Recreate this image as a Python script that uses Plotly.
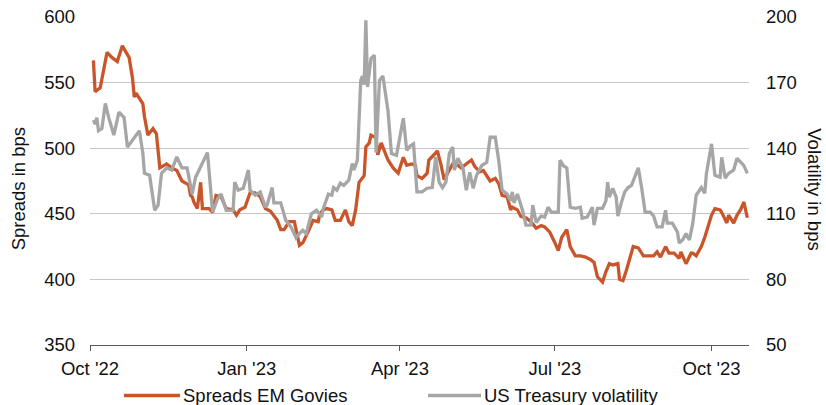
import plotly.graph_objects as go

# EM government bond spreads (bps, left axis)
spread_dates = [
    "2022-10-03", "2022-10-04", "2022-10-07", "2022-10-11", "2022-10-14", "2022-10-17",
    "2022-10-20", "2022-10-24", "2022-10-26", "2022-10-27", "2022-10-28", "2022-11-01",
    "2022-11-02", "2022-11-04", "2022-11-07", "2022-11-09", "2022-11-10", "2022-11-11",
    "2022-11-15", "2022-11-18", "2022-11-21", "2022-11-24", "2022-11-28", "2022-11-29",
    "2022-11-30", "2022-12-01", "2022-12-03", "2022-12-05", "2022-12-06", "2022-12-10",
    "2022-12-12", "2022-12-14", "2022-12-17", "2022-12-20", "2022-12-24", "2022-12-26",
    "2022-12-28", "2022-12-31", "2023-01-03", "2023-01-06", "2023-01-09", "2023-01-12",
    "2023-01-15", "2023-01-18", "2023-01-19", "2023-01-21", "2023-01-23", "2023-01-26",
    "2023-01-29", "2023-02-01", "2023-02-03", "2023-02-06", "2023-02-09", "2023-02-12",
    "2023-02-13", "2023-02-15", "2023-02-17", "2023-02-20", "2023-02-22", "2023-02-25",
    "2023-02-28", "2023-03-02", "2023-03-04", "2023-03-06", "2023-03-08", "2023-03-11",
    "2023-03-12", "2023-03-14", "2023-03-15", "2023-03-18", "2023-03-19", "2023-03-21",
    "2023-03-23", "2023-03-25", "2023-03-28", "2023-03-31", "2023-04-03", "2023-04-05",
    "2023-04-08", "2023-04-10", "2023-04-11", "2023-04-14", "2023-04-17", "2023-04-18",
    "2023-04-21", "2023-04-23", "2023-04-25", "2023-04-27", "2023-04-29", "2023-05-02",
    "2023-05-04", "2023-05-07", "2023-05-09", "2023-05-11", "2023-05-13", "2023-05-15",
    "2023-05-18", "2023-05-20", "2023-05-22", "2023-05-24", "2023-05-27", "2023-05-29",
    "2023-05-31", "2023-06-03", "2023-06-05", "2023-06-06", "2023-06-09", "2023-06-11",
    "2023-06-14", "2023-06-17", "2023-06-20", "2023-06-23", "2023-06-25", "2023-06-28",
    "2023-07-01", "2023-07-03", "2023-07-05", "2023-07-08", "2023-07-10", "2023-07-13",
    "2023-07-16", "2023-07-19", "2023-07-22", "2023-07-24", "2023-07-26", "2023-07-29",
    "2023-07-31", "2023-08-02", "2023-08-04", "2023-08-07", "2023-08-08", "2023-08-10",
    "2023-08-12", "2023-08-14", "2023-08-16", "2023-08-19", "2023-08-22", "2023-08-25",
    "2023-08-28", "2023-08-30", "2023-09-01", "2023-09-04", "2023-09-06", "2023-09-09",
    "2023-09-12", "2023-09-13", "2023-09-16", "2023-09-19", "2023-09-20", "2023-09-22",
    "2023-09-25", "2023-09-27", "2023-09-28", "2023-10-01", "2023-10-03", "2023-10-06",
    "2023-10-07", "2023-10-10", "2023-10-11", "2023-10-14", "2023-10-16", "2023-10-18",
    "2023-10-20", "2023-10-22",
]
spread_values = [
    567, 543, 546, 573, 569, 566,
    578, 569, 553, 539, 542, 534,
    524, 510, 515, 511, 498, 485,
    488, 485, 483, 475, 472, 464,
    463, 459, 454, 474, 454, 454,
    451, 464, 463, 454, 453, 449,
    453, 455, 466, 466, 463, 454,
    452, 447, 445, 438, 438, 444,
    444, 426, 428, 436, 445, 444,
    450, 453, 454, 453, 445, 445,
    453, 444, 441, 453, 474, 479,
    501, 504, 510, 508, 495, 504,
    498, 491, 485, 481, 493, 487,
    488, 487, 479, 477, 481, 491,
    495, 498, 488, 476, 481, 488,
    488, 485, 487, 489, 491, 486,
    482, 483, 479, 475, 477, 473,
    464, 463, 453, 455, 453, 448,
    447, 444, 439, 441, 440, 436,
    428, 422, 432, 438, 425, 418,
    418, 417, 415, 413, 402, 398,
    406, 412, 411, 412, 400, 399,
    407, 417, 425, 424, 418, 418,
    418, 421, 417, 425, 420, 420,
    416, 421, 412, 420, 420, 418,
    425, 432, 436, 449, 454, 453,
    451, 443, 449, 443, 449, 453,
    459, 447,
]

# US Treasury volatility (bps, right axis)
vol_dates = [
    "2022-10-03", "2022-10-04", "2022-10-05", "2022-10-06", "2022-10-08", "2022-10-10",
    "2022-10-12", "2022-10-15", "2022-10-18", "2022-10-21", "2022-10-23", "2022-10-27",
    "2022-10-30", "2022-11-01", "2022-11-02", "2022-11-05", "2022-11-08", "2022-11-10",
    "2022-11-12", "2022-11-15", "2022-11-18", "2022-11-21", "2022-11-24", "2022-11-27",
    "2022-11-30", "2022-12-02", "2022-12-06", "2022-12-09", "2022-12-12", "2022-12-15",
    "2022-12-17", "2022-12-20", "2022-12-24", "2022-12-25", "2022-12-27", "2022-12-30",
    "2023-01-02", "2023-01-03", "2023-01-06", "2023-01-09", "2023-01-12", "2023-01-13",
    "2023-01-16", "2023-01-17", "2023-01-21", "2023-01-24", "2023-01-27", "2023-01-30",
    "2023-02-01", "2023-02-03", "2023-02-05", "2023-02-08", "2023-02-11", "2023-02-14",
    "2023-02-15", "2023-02-18", "2023-02-20", "2023-02-21", "2023-02-23", "2023-02-25",
    "2023-02-27", "2023-03-02", "2023-03-04", "2023-03-05", "2023-03-07", "2023-03-09",
    "2023-03-10", "2023-03-11", "2023-03-12", "2023-03-13", "2023-03-15", "2023-03-17",
    "2023-03-18", "2023-03-20", "2023-03-22", "2023-03-25", "2023-03-27", "2023-03-30",
    "2023-04-03", "2023-04-05", "2023-04-07", "2023-04-09", "2023-04-11", "2023-04-14",
    "2023-04-17", "2023-04-20", "2023-04-22", "2023-04-24", "2023-04-26", "2023-04-28",
    "2023-04-30", "2023-05-02", "2023-05-03", "2023-05-05", "2023-05-08", "2023-05-10",
    "2023-05-12", "2023-05-14", "2023-05-16", "2023-05-19", "2023-05-22", "2023-05-24",
    "2023-05-27", "2023-05-29", "2023-05-31", "2023-06-03", "2023-06-05", "2023-06-06",
    "2023-06-07", "2023-06-09", "2023-06-12", "2023-06-14", "2023-06-17", "2023-06-18",
    "2023-06-20", "2023-06-23", "2023-06-25", "2023-06-27", "2023-06-29", "2023-07-03",
    "2023-07-04", "2023-07-06", "2023-07-08", "2023-07-10", "2023-07-13", "2023-07-16",
    "2023-07-17", "2023-07-20", "2023-07-23", "2023-07-24", "2023-07-26", "2023-07-29",
    "2023-07-31", "2023-08-01", "2023-08-02", "2023-08-04", "2023-08-06", "2023-08-07",
    "2023-08-09", "2023-08-11", "2023-08-13", "2023-08-15", "2023-08-17", "2023-08-19",
    "2023-08-21", "2023-08-23", "2023-08-26", "2023-08-28", "2023-08-30", "2023-09-02",
    "2023-09-04", "2023-09-05", "2023-09-08", "2023-09-11", "2023-09-12", "2023-09-14",
    "2023-09-16", "2023-09-18", "2023-09-20", "2023-09-22", "2023-09-25", "2023-09-27",
    "2023-09-28", "2023-10-01", "2023-10-03", "2023-10-06", "2023-10-07", "2023-10-09",
    "2023-10-11", "2023-10-14", "2023-10-16", "2023-10-18", "2023-10-20", "2023-10-22",
]
vol_values = [
    152.8, 151, 154, 148, 149, 160.5,
    154, 146, 156.5, 154, 140.5, 145,
    148, 138, 128.5, 127.6, 111.6, 114,
    128.5, 131, 130, 136, 131, 131,
    119, 126.7, 133, 138, 110.7, 117,
    119, 111.6, 111.6, 124.5, 120.8, 121.7,
    130, 120.8, 118.5, 120, 113, 114,
    122, 115, 115, 107, 104, 99,
    101, 102.5, 101, 110, 111.6, 108.5,
    112.5, 119, 118.5, 122, 120.8, 124,
    123, 125.4, 133, 130, 134.5, 171,
    173, 169, 198.5, 168, 181, 182.5,
    138, 171, 173, 157, 137.6, 136.8,
    153.7, 139, 141, 142, 120, 120,
    121.7, 122, 136, 124.5, 122, 124.5,
    137.6, 140.5, 130, 135.4, 131, 120.8,
    129, 121.7, 127.6, 132, 133.6, 145,
    145, 134.5, 120.8, 119, 116, 120,
    115, 119, 111.6, 104.8, 104.8, 114,
    106, 109, 108.5, 113, 110.7, 110.7,
    134.5, 132, 131, 113, 112.5, 113,
    108, 108.5, 113, 104.8, 112.5, 112.5,
    116, 124.5, 117.6, 121.7, 117.6, 109,
    115, 120, 122, 123, 127, 131,
    121.7, 110.7, 110.7, 109, 104, 104,
    111.6, 105.7, 105.7, 101.6, 96.6, 98,
    101, 98, 105.7, 118.5, 122, 119.4,
    128.5, 142, 127.6, 126.7, 135.8, 126.3,
    128.5, 130, 135.4, 133.6, 132, 128.5,
]

spread_name = "Spreads EM Govies"
vol_name = "US Treasury volatility"
spread_color = "#C9552B"
vol_color = "#A6A6A6"

font_family = "Liberation Sans, Arial, sans-serif"
text_color = "#111111"
font_size = 18.5

fig = go.Figure()
fig.add_trace(go.Scatter(
    x=spread_dates, y=spread_values, name=spread_name, mode="lines",
    line=dict(color=spread_color, width=3.3), yaxis="y",
))
fig.add_trace(go.Scatter(
    x=vol_dates, y=vol_values, name=vol_name, mode="lines",
    line=dict(color=vol_color, width=3.3), yaxis="y2",
))

fig.update_layout(
    width=826, height=405,
    margin=dict(l=90, r=77, t=17, b=60),
    paper_bgcolor="white", plot_bgcolor="white",
    font=dict(family=font_family, size=font_size, color=text_color),
    showlegend=False,
    xaxis=dict(
        type="date",
        range=["2022-10-01", "2023-10-23"],
        tick0="2022-10-01", dtick="M3", tickformat="%b '%y",
        showgrid=False, zeroline=False,
        showline=True, linecolor="#595959", linewidth=1.3,
        ticks="outside", ticklen=5, tickcolor="#595959", tickwidth=1,
        ticklabelstandoff=2, automargin=False,
    ),
    yaxis=dict(
        range=[350, 600], dtick=50, tick0=350,
        showgrid=True, gridcolor="#C6C6C6", gridwidth=1,
        zeroline=False, showline=False, ticks="",
        ticklabelstandoff=14, automargin=False,
    ),
    yaxis2=dict(
        range=[50, 200], dtick=30, tick0=50,
        overlaying="y", side="right",
        showgrid=False, zeroline=False, showline=False, ticks="",
        ticklabelstandoff=16, automargin=False,
    ),
)

# Axis titles
fig.add_annotation(
    text="Spreads in bps", textangle=-90, xref="paper", yref="paper",
    x=-0.109, y=0.475, xanchor="center", yanchor="middle", showarrow=False,
    font=dict(size=font_size, color=text_color),
)
fig.add_annotation(
    text="Volatility in bps", textangle=90, xref="paper", yref="paper",
    x=1.1, y=0.475, xanchor="center", yanchor="middle", showarrow=False,
    font=dict(size=font_size, color=text_color),
)

# Legend drawn below the plot area
legend_y = -0.154
legend_items = [
    (spread_name, spread_color, 0.0516, 0.1366),
    (vol_name, vol_color, 0.5129, 0.5933),
]
for name, color, x0, x1 in legend_items:
    fig.add_shape(
        type="line", xref="paper", yref="paper",
        x0=x0, x1=x1, y0=legend_y, y1=legend_y,
        line=dict(color=color, width=3.5),
    )
    fig.add_annotation(
        text=name, xref="paper", yref="paper",
        x=x1 + 0.002, y=legend_y, xanchor="left", yanchor="middle",
        showarrow=False, font=dict(size=font_size, color=text_color),
    )

fig.write_html("out.html")
